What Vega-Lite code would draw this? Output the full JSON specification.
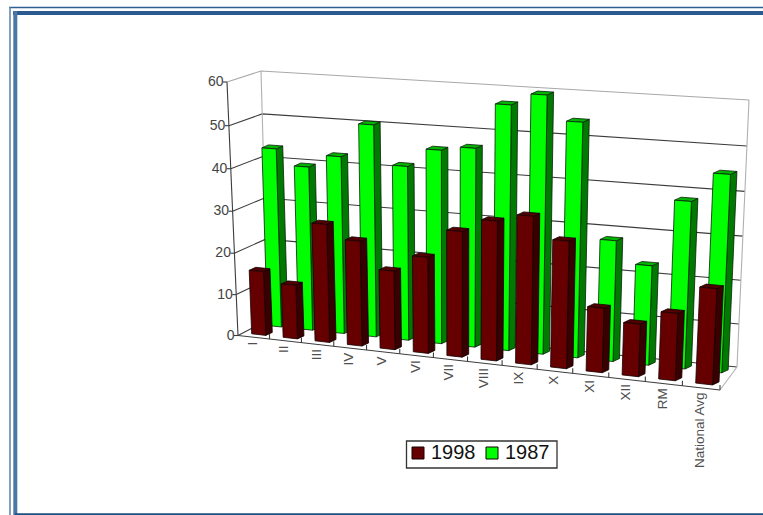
{
"$schema":"https://vega.github.io/schema/vega-lite/v6.json",
"width":763,"height":515,"padding":0,
"autosize":{"type":"none"},
"background":"white",
"config":{"view":{"stroke":null},"font":"Liberation Sans"},
"datasets":{
"bars":[
{"category":"I","year":"1998","value":15.5},{"category":"II","year":"1998","value":13},{"category":"III","year":"1998","value":28.2},{"category":"IV","year":"1998","value":25},{"category":"V","year":"1998","value":18.7},{"category":"VI","year":"1998","value":22.7},{"category":"VII","year":"1998","value":29.4},{"category":"VIII","year":"1998","value":32.5},{"category":"IX","year":"1998","value":34.3},{"category":"X","year":"1998","value":29.4},{"category":"XI","year":"1998","value":14.9},{"category":"XII","year":"1998","value":12.1},{"category":"RM","year":"1998","value":15.4},{"category":"National Avg","year":"1998","value":21.8},
{"category":"I","year":"1987","value":43},{"category":"II","year":"1987","value":39.3},{"category":"III","year":"1987","value":42.3},{"category":"IV","year":"1987","value":50.2},{"category":"V","year":"1987","value":41.2},{"category":"VI","year":"1987","value":45.5},{"category":"VII","year":"1987","value":46.5},{"category":"VIII","year":"1987","value":56.8},{"category":"IX","year":"1987","value":59.5},{"category":"X","year":"1987","value":54},{"category":"XI","year":"1987","value":28},{"category":"XII","year":"1987","value":23},{"category":"RM","year":"1987","value":38.2},{"category":"National Avg","year":"1987","value":44.8}
],
"gridlines":[{"value":0},{"value":10},{"value":20},{"value":30},{"value":40},{"value":50},{"value":60}],
"edges":[
{"edge":"leftAxis","tone":"dark","step":0,"s":0,"d":0,"h":0},{"edge":"leftAxis","tone":"dark","step":1,"s":0,"d":0,"h":60},
{"edge":"frontFloor","tone":"dark","step":0,"s":0,"d":0,"h":0},{"edge":"frontFloor","tone":"dark","step":1,"s":14,"d":0,"h":0},
{"edge":"backLeft","tone":"light","step":0,"s":0,"d":1,"h":0},{"edge":"backLeft","tone":"light","step":1,"s":0,"d":1,"h":60},
{"edge":"backRight","tone":"light","step":0,"s":14,"d":1,"h":0},{"edge":"backRight","tone":"light","step":1,"s":14,"d":1,"h":60},
{"edge":"rightFloor","tone":"light","step":0,"s":14,"d":1,"h":0},{"edge":"rightFloor","tone":"light","step":1,"s":14,"d":0,"h":0}
],
"border":[{"part":"outer"}]
},
"params":[{"name":"order","value":["I","II","III","IV","V","VI","VII","VIII","IX","X","XI","XII","RM","National Avg"]}],
"encoding":{
"x":{"field":"X","type":"quantitative","scale":{"domain":[0,763],"nice":false,"zero":false},"axis":null},
"y":{"field":"Y","type":"quantitative","scale":{"domain":[515,0],"nice":false,"zero":false},"axis":null}
},
"layer":[
{"data":{"name":"gridlines"},
"transform":[
{"calculate":"[0,1,2]","as":"step"},{"flatten":["step"]},
{"calculate":"[0,0,14][datum.step]","as":"s"},{"calculate":"[0,1,1][datum.step]","as":"d"},{"calculate":"datum.value","as":"h"},
{"calculate":"(datum.s/14)/((datum.s/14)+1.1*(1-datum.s/14))","as":"f"},
{"calculate":"(datum.h/60)/((datum.h/60)+1.04*(1-datum.h/60))","as":"g"},
{"calculate":"(1-datum.g)*((1-datum.f)*((1-datum.d)*238+datum.d*268)+datum.f*((1-datum.d)*720+datum.d*737))+datum.g*((1-datum.f)*((1-datum.d)*227+datum.d*261)+datum.f*((1-datum.d)*733+datum.d*749))","as":"X"},
{"calculate":"(1-datum.g)*((1-datum.f)*((1-datum.d)*335.5+datum.d*320)+datum.f*((1-datum.d)*390+datum.d*367))+datum.g*((1-datum.f)*((1-datum.d)*82+datum.d*71)+datum.f*((1-datum.d)*117+datum.d*100))","as":"Y"}
],
"mark":{"type":"line","strokeWidth":1.1},
"encoding":{"detail":{"field":"value"},"order":{"field":"step"},
"color":{"condition":{"test":"datum.value==60","value":"#a8a8a8"},"value":"#3c3c3c"}}},
{"data":{"name":"edges"},
"transform":[
{"calculate":"(datum.s/14)/((datum.s/14)+1.1*(1-datum.s/14))","as":"f"},
{"calculate":"(datum.h/60)/((datum.h/60)+1.04*(1-datum.h/60))","as":"g"},
{"calculate":"(1-datum.g)*((1-datum.f)*((1-datum.d)*238+datum.d*268)+datum.f*((1-datum.d)*720+datum.d*737))+datum.g*((1-datum.f)*((1-datum.d)*227+datum.d*261)+datum.f*((1-datum.d)*733+datum.d*749))","as":"X"},
{"calculate":"(1-datum.g)*((1-datum.f)*((1-datum.d)*335.5+datum.d*320)+datum.f*((1-datum.d)*390+datum.d*367))+datum.g*((1-datum.f)*((1-datum.d)*82+datum.d*71)+datum.f*((1-datum.d)*117+datum.d*100))","as":"Y"}
],
"mark":{"type":"line","strokeWidth":1.1},
"encoding":{"detail":{"field":"edge"},"order":{"field":"step"},
"color":{"condition":{"test":"datum.tone=='light'","value":"#b0b0b0"},"value":"#3c3c3c"}}},
{"data":{"name":"gridlines"},
"transform":[
{"calculate":"(datum.value/60)/((datum.value/60)+1.04*(1-datum.value/60))","as":"g"},
{"calculate":"(1-datum.g)*238+datum.g*227","as":"X"},
{"calculate":"(1-datum.g)*335.5+datum.g*82","as":"Y"},
{"calculate":"datum.X-4","as":"X2"}
],
"mark":{"type":"rule","color":"#3c3c3c","strokeWidth":1.1},
"encoding":{"x2":{"field":"X2"}}},
{"data":{"name":"gridlines"},
"transform":[
{"calculate":"(datum.value/60)/((datum.value/60)+1.04*(1-datum.value/60))","as":"g"},
{"calculate":"(1-datum.g)*238+datum.g*227-3.5","as":"X"},
{"calculate":"(1-datum.g)*335.5+datum.g*82","as":"Y"}
],
"mark":{"type":"text","align":"right","baseline":"middle","fontSize":14,"color":"#444444"},
"encoding":{"text":{"field":"value","type":"quantitative"}}},
{"data":{"name":"bars"},
"transform":[
{"filter":"datum.year=='1998'"},
{"calculate":"indexof(order,datum.category)+1","as":"s"},
{"calculate":"(datum.s/14)/((datum.s/14)+1.1*(1-datum.s/14))","as":"f"},
{"calculate":"(1-datum.f)*238+datum.f*720","as":"X"},
{"calculate":"(1-datum.f)*335.5+datum.f*390","as":"Y"},
{"calculate":"datum.Y-5","as":"Y2"}
],
"mark":{"type":"rule","color":"#3c3c3c","strokeWidth":1.1},
"encoding":{"y2":{"field":"Y2"}}},
{"data":{"name":"bars"},
"transform":[
{"filter":"datum.year=='1998'"},
{"calculate":"indexof(order,datum.category)+0.5","as":"s"},
{"calculate":"(datum.s/14)/((datum.s/14)+1.1*(1-datum.s/14))","as":"f"},
{"calculate":"(1-datum.f)*238+datum.f*720-1","as":"X"},
{"calculate":"(1-datum.f)*335.5+datum.f*390+4.5","as":"Y"}
],
"mark":{"type":"text","angle":270,"align":"right","baseline":"middle","fontSize":13.5,"color":"#505050"},
"encoding":{"text":{"field":"category","type":"nominal"}}},
{"data":{"name":"bars"},
"transform":[
{"calculate":"['side','top','front']","as":"face"},{"flatten":["face"]},
{"calculate":"[0,1,2,3,4]","as":"k"},{"flatten":["k"]},
{"calculate":"datum.face=='side'?1:[-1,1,1,-1,-1][datum.k]","as":"sign"},
{"calculate":"datum.face=='top'?1:[0,0,1,1,0][datum.k]","as":"up"},
{"calculate":"datum.face=='side'?[0,1,1,0,0][datum.k]:(datum.face=='top'?[0,0,1,1,0][datum.k]:0)","as":"off"},
{"calculate":"indexof(order,datum.category)+0.5+0.225*datum.sign","as":"s"},
{"calculate":"datum.year=='1998'?0.17:0.7","as":"d"},
{"calculate":"datum.up*datum.value","as":"h"},
{"calculate":"(datum.s/14)/((datum.s/14)+1.1*(1-datum.s/14))","as":"f"},
{"calculate":"(datum.h/60)/((datum.h/60)+1.04*(1-datum.h/60))","as":"g"},
{"calculate":"(1-datum.g)*((1-datum.f)*((1-datum.d)*238+datum.d*268)+datum.f*((1-datum.d)*720+datum.d*737))+datum.g*((1-datum.f)*((1-datum.d)*227+datum.d*261)+datum.f*((1-datum.d)*733+datum.d*749))+6.5*datum.off","as":"X"},
{"calculate":"(1-datum.g)*((1-datum.f)*((1-datum.d)*335.5+datum.d*320)+datum.f*((1-datum.d)*390+datum.d*367))+datum.g*((1-datum.f)*((1-datum.d)*82+datum.d*71)+datum.f*((1-datum.d)*117+datum.d*100))-3*datum.off","as":"Y"}
],
"layer":[
{"transform":[{"filter":"datum.year=='1987'&&datum.face=='side'"}],"mark":{"type":"line","fill":"#007a00","stroke":"#0a200a","strokeWidth":0.8},"encoding":{"detail":{"field":"category"},"order":{"field":"k"}}},
{"transform":[{"filter":"datum.year=='1987'&&datum.face=='top'"}],"mark":{"type":"line","fill":"#00b400","stroke":"#0a200a","strokeWidth":0.8},"encoding":{"detail":{"field":"category"},"order":{"field":"k"}}},
{"transform":[{"filter":"datum.year=='1987'&&datum.face=='front'"}],"mark":{"type":"line","stroke":"#0a200a","strokeWidth":0.8},"encoding":{"detail":{"field":"category"},"order":{"field":"k"},
"fill":{"field":"year","type":"nominal","scale":{"domain":["1998","1987"],"range":["#660000","#00ff00"]},
"legend":{"title":null,"orient":"none","legendX":406,"legendY":441,"direction":"horizontal","symbolType":"square","symbolSize":144,"symbolStrokeColor":"#000000","symbolStrokeWidth":1,"labelFontSize":20,"labelColor":"#111111","labelFont":"Liberation Sans","padding":2,"columnPadding":6,"labelOffset":3}}}},
{"transform":[{"filter":"datum.year=='1998'&&datum.face=='side'"}],"mark":{"type":"line","fill":"#380000","stroke":"#140000","strokeWidth":0.8},"encoding":{"detail":{"field":"category"},"order":{"field":"k"}}},
{"transform":[{"filter":"datum.year=='1998'&&datum.face=='top'"}],"mark":{"type":"line","fill":"#500000","stroke":"#140000","strokeWidth":0.8},"encoding":{"detail":{"field":"category"},"order":{"field":"k"}}},
{"transform":[{"filter":"datum.year=='1998'&&datum.face=='front'"}],"mark":{"type":"line","stroke":"#140000","strokeWidth":0.8},"encoding":{"detail":{"field":"category"},"order":{"field":"k"},"fill":{"field":"year","type":"nominal","scale":{"domain":["1998","1987"],"range":["#660000","#00ff00"]}}}}
]},
{"data":{"name":"border"},
"transform":[{"calculate":"406.5","as":"X"},{"calculate":"557","as":"X2"},{"calculate":"441","as":"Y"},{"calculate":"468","as":"Y2"}],
"mark":{"type":"rect","fill":"white","stroke":"#333333","strokeWidth":1.3},"encoding":{"x2":{"field":"X2"},"y2":{"field":"Y2"}}},
{"data":{"name":"border"},
"transform":[{"calculate":"9","as":"X"},{"calculate":"763","as":"X2"},{"calculate":"7.5","as":"Y"}],
"mark":{"type":"rule","color":"#2d5f94","strokeWidth":1.5},"encoding":{"x2":{"field":"X2"}}},
{"data":{"name":"border"},
"transform":[{"calculate":"10","as":"X"},{"calculate":"7","as":"Y"},{"calculate":"515","as":"Y2"}],
"mark":{"type":"rule","color":"#5b82ad","strokeWidth":1.5},"encoding":{"y2":{"field":"Y2"}}},
{"data":{"name":"border"},
"transform":[{"calculate":"13","as":"X"},{"calculate":"763","as":"X2"},{"calculate":"13","as":"Y"}],
"mark":{"type":"rule","color":"#2a5a90","strokeWidth":4},"encoding":{"x2":{"field":"X2"}}},
{"data":{"name":"border"},
"transform":[{"calculate":"15.3","as":"X"},{"calculate":"11","as":"Y"},{"calculate":"515","as":"Y2"}],
"mark":{"type":"rule","color":"#4a76a6","strokeWidth":4},"encoding":{"y2":{"field":"Y2"}}},
{"data":{"name":"border"},
"transform":[{"calculate":"15","as":"X"},{"calculate":"763","as":"X2"},{"calculate":"514.3","as":"Y"}],
"mark":{"type":"rule","color":"#1d4f80","strokeWidth":2},"encoding":{"x2":{"field":"X2"}}}
]
}
